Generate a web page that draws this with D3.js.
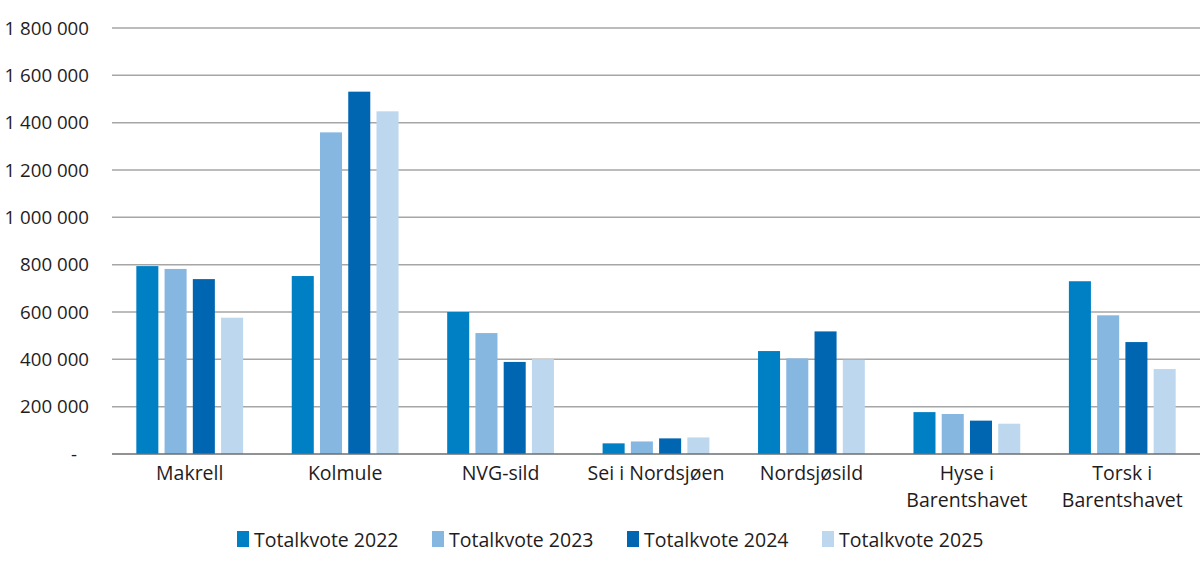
<!DOCTYPE html>
<html>
<head>
<meta charset="utf-8">
<script src="https://cdn.jsdelivr.net/npm/d3@7"></script>
<style>
  body { margin: 0; background: #fff; }
  text { font-family: "Open Sans", sans-serif; fill: #1f1c1d; }
</style>
</head>
<body>
<div id="graphic"></div>
<script>
const categories = ["Makrell", "Kolmule", "NVG-sild", "Sei i Nordsjøen", "Nordsjøsild", "Hyse i|Barentshavet", "Torsk i|Barentshavet"]
const seriesNames = ["Totalkvote 2022", "Totalkvote 2023", "Totalkvote 2024", "Totalkvote 2025"]
const kvote2022 = [794000, 752000, 600000, 45000, 435000, 177000, 730000]
const kvote2023 = [782000, 1359000, 511000, 53000, 404000, 169000, 586000]
const kvote2024 = [739000, 1531000, 389000, 66000, 518000, 141000, 473000]
const kvote2025 = [576000, 1448000, 401000, 70000, 398000, 128000, 359000]
const yTicks = [0, 200000, 400000, 600000, 800000, 1000000, 1200000, 1400000, 1600000, 1800000]
const colors = ["#0080c4", "#85b7e0", "#0066b2", "#bdd8ee"]

const chartWidth = 1200
const chartHeight = 567
const margin = { top: 28, right: 0, bottom: 113, left: 112 }
const width = chartWidth - margin.left - margin.right
const height = chartHeight - margin.top - margin.bottom

const allSeries = [kvote2022, kvote2023, kvote2024, kvote2025]

let svg = d3.select("#graphic").append("svg")
    .attr("width", chartWidth)
    .attr("height", chartHeight)

let g = svg.append("g")
    .attr("transform", "translate(" + margin.left + "," + margin.top + ")")

let x0 = d3.scaleBand()
    .domain(categories)
    .range([0, width])
    .padding(0.313)
    .paddingOuter(0.1565)

let x1 = d3.scaleBand()
    .domain(seriesNames)
    .range([0, x0.bandwidth()])
    .paddingInner(0.22)

let y = d3.scaleLinear()
    .domain([0, 1800000])
    .range([height, 0])

// gridlines
g.selectAll(".grid")
    .data(yTicks.slice(1))
    .enter().append("line")
    .attr("x1", 0)
    .attr("x2", width)
    .attr("y1", d => y(d))
    .attr("y2", d => y(d))
    .attr("stroke", "#a6a6a6")
    .attr("stroke-width", 1.5)

// y labels
const fmt = d => d === 0 ? "-" : d3.format(",")(d).replace(/,/g, " ")
g.selectAll(".ylab")
    .data(yTicks)
    .enter().append("text")
    .attr("x", d => d === 0 ? -35 : -23)
    .attr("y", d => y(d))
    .attr("dy", "0.35em")
    .attr("text-anchor", "end")
    .style("font-size", "18.7px")
    .text(fmt)

// bars
let groups = g.selectAll(".grp")
    .data(categories)
    .enter().append("g")
    .attr("transform", d => "translate(" + x0(d) + ",0)")

groups.selectAll("rect")
    .data((c, i) => allSeries.map((s, j) => ({ name: seriesNames[j], value: s[i], j: j })))
    .enter().append("rect")
    .attr("x", d => x1(d.name))
    .attr("width", x1.bandwidth())
    .attr("y", d => y(d.value))
    .attr("height", d => height - y(d.value))
    .attr("fill", d => colors[d.j])

// baseline
g.append("line")
    .attr("x1", 0)
    .attr("x2", width)
    .attr("y1", height)
    .attr("y2", height)
    .attr("stroke", "#6d6e71")
    .attr("stroke-width", 1.5)

// category labels
let catLabels = g.selectAll(".cat")
    .data(categories)
    .enter().append("text")
    .attr("text-anchor", "middle")
    .attr("x", d => x0(d) + x0.bandwidth() / 2)
    .attr("y", height + 19)
    .style("font-size", "19.5px")

catLabels.selectAll("tspan")
    .data(d => d.split("|"))
    .enter().append("tspan")
    .attr("x", function () { return d3.select(this.parentNode).attr("x") })
    .attr("dy", (d, i) => i === 0 ? "0.35em" : "1.37em")
    .text(d => d)

// legend
let legend = svg.selectAll(".leg")
    .data(seriesNames)
    .enter().append("g")
    .attr("transform", (d, i) => "translate(" + (237 + i * 195) + ",531)")

legend.append("rect")
    .attr("width", 12)
    .attr("height", 16)
    .attr("fill", (d, i) => colors[i])

legend.append("text")
    .attr("x", 17)
    .attr("y", 9)
    .attr("dy", "0.35em")
    .style("font-size", "19.5px")
    .text(d => d)
</script>
</body>
</html>
